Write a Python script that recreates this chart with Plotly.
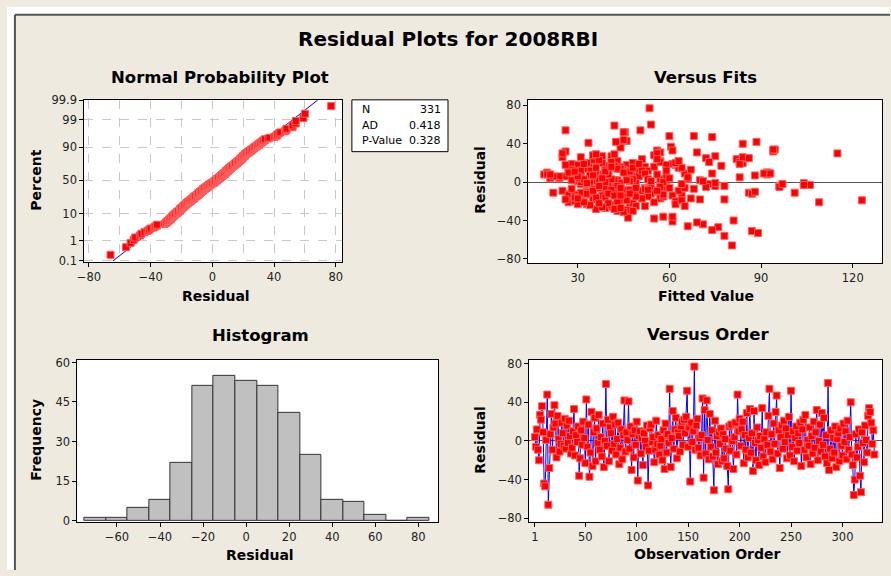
import plotly.graph_objects as go
from statistics import NormalDist, mean, stdev

# ---------------- data ----------------
residuals = [
    4, -6, 12, -9, -20, 27, 22, 36, 9, -44,
    -47, 1, 48, -66, -28, 7, 28, -9, 14, 37,
    18, -17, 26, 2, -11, -3, 19, 8, -5, 23,
    -8, 16, -2, 21, 5, -13, -7, 10, 33, -15,
    6, -1, 15, -36, -18, 11, -4, 20, 3, -23,
    43, -6, 17, -37, -12, 30, -26, 9, 24, -21,
    13, -2, 27, -9, 4, -16, 18, -27, 0, 59,
    -5, 22, -21, 14, 8, -10, 25, -3, 17, -14,
    2, 19, -24, -7, 12, -19, 6, 42, -11, 9,
    1, 41, -8, 15, -30, 7, -17, 11, -4, 20,
    -41, 5, 10, -13, 3, -25, 8, 0, -6, 16,
    -46, -10, 13, 17, -1, 4, -22, -9, 21, -3,
    6, -14, -5, 2, -20, 11, -29, 18, -12, 7,
    -2, 54, -27, 3, 31, -8, 12, 24, -18, 9,
    5, -11, 15, 20, -4, 22, 8, 25, 52, -6,
    14, -42, 19, -1, 10, 77, -9, 16, 23, -7,
    3, -15, 6, 44, -38, 32, -13, 42, 1, -19,
    28, -6, 11, -16, -51, 21, -12, 5, -24, 9,
    -3, 13, -21, 7, -18, 2, -8, -26, -50, 15,
    -10, 17, 0, -29, 4, 19, -14, 48, 10, 23,
    -5, 12, 20, -23, 6, -9, 29, -17, 3, 33,
    -12, 8, -31, 31, -2, -20, 14, 1, -25, 5,
    -7, 34, -16, 2, -22, 9, -4, 26, 54, -11,
    7, -19, 18, -3, 30, 47, -13, 11, -28, 4,
    16, -8, 21, -1, 13, -18, 6, 25, -15, 52,
    -6, 10, -21, 3, 15, -10, 8, -2, 19, -26,
    12, 22, -9, 27, -17, 1, -5, 14, -24, 5,
    -13, 20, -7, 9, 32, -20, 0, 17, -11, 29,
    -4, 24, -16, 6, -23, 60, -30, -8, 11, -18,
    3, -12, 15, -27, 2, 8, -21, 13, -5, -15,
    18, -1, 10, -19, 21, -9, 4, 40, -14, -25,
    -56, -40, 7, -17, -6, 12, -36, -53, 9, -2,
    -22, 16, 1, -12, 26, 34, 30, 19, -3, 11,
    -14,
]

fitted = [
    38, 52, 29, 44, 31, 41, 57, 44, 65, 71,
    76, 35, 60, 80.5, 36, 48, 55, 33, 40, 60.5,
    46, 29, 25, 70, 22, 57, 35, 19, 42, 38,
    49, 52, 31, 63, 83, 27, 39, 20, 61, 45,
    37, 104, 30, 58, 28, 47, 96, 84, 66, 33,
    46, 54, 43, 46.5, 32, 115, 40, 28, 82, 37,
    45, 73, 38, 51, 24, 30, 62, 44, 34, 42,
    59, 36, 27, 49, 92, 56, 85, 40, 32, 64,
    43, 28, 47, 35, 53, 123, 26, 42.5, 86, 39,
    30, 33.5, 58, 41, 43, 36, 67, 50, 75, 48,
    61, 29, 92, 34, 46, 52, 37, 31, 60, 55,
    66, 41, 27, 39, 44, 21, 48, 63, 57, 33,
    50, 38, 72, 42, 29, 36, 45, 30, 54, 88,
    40, 26, 39, 57, 69, 45, 34, 51, 35, 93,
    47, 31, 63, 38, 78, 43, 56, 72, 45.5, 37,
    32, 69, 61, 49, 40, 53.5, 25, 44, 35, 68,
    41, 53, 30, 45, 55, 94, 27, 88.5, 54, 44,
    35, 65, 46, 39, 87, 83, 33, 59, 41, 74,
    104.5, 28, 109, 31, 26, 37, 47, 43, 74, 64,
    35, 42, 58, 46, 30, 83, 61, 68, 92, 37,
    39, 51, 62, 30, 24, 42, 36, 57, 48, 56,
    87, 40, 45, 57, 33, 62, 44, 71, 49, 38,
    52, 94.5, 36, 28, 40, 91, 43, 84, 50.5, 101,
    34, 46, 59, 106, 56, 74, 29, 47, 42, 60,
    36, 53, 41, 75, 39, 70, 22, 86, 58, 45,
    44, 27, 55, 32, 48, 88, 20, 64, 50, 38,
    31, 63, 35, 75, 51, 47, 96, 43, 34, 66,
    58, 33, 28, 52, 26, 43, 39, 77, 48, 42,
    37, 56, 29, 30, 62, 54, 48, 41, 39, 78,
    53, 40, 36, 44, 46, 21, 32, 67, 57, 49,
    26, 33, 45, 64, 73, 56, 38, 84, 42, 65,
    78, 81, 35, 30, 49, 59, 61, 89, 93, 97,
    37, 41, 54, 47, 31, 94, 25, 32, 104, 29,
    44,
]

hist_centers = [-70, -60, -50, -40, -30, -20, -10, 0, 10, 20, 30, 40, 50, 60, 70, 80]
hist_counts = [1, 1, 5, 8, 22, 51, 55, 53, 51, 41, 25, 8, 7, 2, 0, 1]

npp_tick_pct = [0.1, 1, 10, 50, 90, 99, 99.9]
npp_tick_text = ["0.1", "1", "10", "50", "90", "99", "99.9"]

stat_labels = ["N", "AD", "P-Value"]
stat_values = ["331", "0.418", "0.328"]

main_title = "Residual Plots for 2008RBI"

# ---------------- derived ----------------
W, H = 891, 576
nd = NormalDist()
n = len(residuals)
order = list(range(1, n + 1))
sorted_res = sorted(residuals)
npp_z = [nd.inv_cdf((i - 0.3) / (n + 0.4)) for i in range(1, n + 1)]
tick_z = [nd.inv_cdf(p / 100.0) for p in npp_tick_pct]
zmin, zmax = nd.inv_cdf(0.001), nd.inv_cdf(0.999)
mu, sd = mean(residuals), stdev(residuals)
line_x = [mu + sd * zmin, mu + sd * zmax]


def px(x):
    return x / W


def py(y):
    return 1 - y / H


RED = "#ff0000"
BEIGE = "#EEEAE0"
FONT = "DejaVu Sans"
marker = dict(symbol="square", size=7, color=RED, line=dict(color="#ff6060", width=1))

fig = go.Figure()

fig.add_trace(go.Scatter(x=line_x, y=[zmin, zmax], mode="lines",
                         line=dict(color="#0000ff", width=1), xaxis="x", yaxis="y"))
fig.add_trace(go.Scatter(x=sorted_res, y=npp_z, mode="markers", marker=marker,
                         xaxis="x", yaxis="y"))
fig.add_trace(go.Scatter(x=fitted, y=residuals, mode="markers", marker=marker,
                         xaxis="x2", yaxis="y2"))
fig.add_trace(go.Bar(x=hist_centers, y=hist_counts, width=10,
                     marker=dict(color="#c0c0c0", line=dict(color="#333333", width=1)),
                     xaxis="x3", yaxis="y3"))
fig.add_trace(go.Scatter(x=order, y=residuals, mode="lines+markers",
                         line=dict(color="#0000ff", width=1), marker=marker,
                         xaxis="x4", yaxis="y4"))

axis_base = dict(showline=True, linecolor="black", linewidth=1, mirror=True,
                 ticks="outside", ticklen=4, tickcolor="black",
                 tickfont=dict(family=FONT, size=11.5, color="#222222"),
                 zeroline=False, showgrid=False, fixedrange=True)

dom = {
    "npp": ([px(78), px(338)], [py(261), py(95)]),
    "fits": ([px(526), px(883)], [py(262), py(95)]),
    "hist": ([px(71), px(435)], [py(527), py(361)]),
    "order": ([px(527), px(883)], [py(527), py(361)]),
}

grid = dict(showgrid=True, gridcolor="#c8c8c8", griddash="dash", gridwidth=1)

fig.update_layout(
    xaxis=dict(axis_base, domain=dom["npp"][0], anchor="y", range=[-83, 84],
               tickvals=[-80, -40, 0, 40, 80], **grid,
               minor=dict(tickvals=[-60, -20, 20, 60], showgrid=True,
                          gridcolor="#c8c8c8", griddash="dash", ticks="")),
    yaxis=dict(axis_base, domain=dom["npp"][1], anchor="x", range=[zmin - 0.05, zmax + 0.01],
               tickvals=tick_z, ticktext=npp_tick_text, **grid),
    xaxis2=dict(axis_base, domain=dom["fits"][0], anchor="y2", range=[13.8, 129.6],
                tickvals=[30, 60, 90, 120]),
    yaxis2=dict(axis_base, domain=dom["fits"][1], anchor="x2", range=[-84.4, 85.8],
                tickvals=[-80, -40, 0, 40, 80], zeroline=True, zerolinecolor="#555555",
                zerolinewidth=1),
    xaxis3=dict(axis_base, domain=dom["hist"][0], anchor="y3", range=[-78.4, 89.2],
                tickvals=[-60, -40, -20, 0, 20, 40, 60, 80]),
    yaxis3=dict(axis_base, domain=dom["hist"][1], anchor="x3", range=[-0.6, 61],
                tickvals=[0, 15, 30, 45, 60]),
    xaxis4=dict(axis_base, domain=dom["order"][0], anchor="y4", range=[-4.5, 338.5],
                tickvals=[1, 50, 100, 150, 200, 250, 300]),
    yaxis4=dict(axis_base, domain=dom["order"][1], anchor="x4", range=[-84, 84],
                tickvals=[-80, -40, 0, 40, 80], zeroline=True, zerolinecolor="#555555",
                zerolinewidth=1),
    width=W, height=H, margin=dict(l=0, r=0, t=0, b=0),
    paper_bgcolor=BEIGE, plot_bgcolor="white", showlegend=False, bargap=0,
)

shapes = [
    dict(type="rect", xref="paper", yref="paper", x0=0, x1=1, y0=py(8), y1=1,
         fillcolor="white", line=dict(width=0), layer="below"),
    dict(type="rect", xref="paper", yref="paper", x0=0, x1=px(8), y0=0, y1=1,
         fillcolor="white", line=dict(width=0), layer="below"),
    dict(type="line", xref="paper", yref="paper", x0=px(8), x1=1, y0=py(8), y1=py(8),
         line=dict(color="#555555", width=2)),
    dict(type="line", xref="paper", yref="paper", x0=px(8), x1=px(8), y0=0, y1=py(8),
         line=dict(color="#555555", width=2)),
    dict(type="rect", xref="paper", yref="paper", x0=px(348), x1=px(445),
         y0=py(148), y1=py(95), fillcolor="white", line=dict(color="black", width=1)),
]
fig.update_layout(shapes=shapes)

ann = []


def text(t, x, y, size, bold=False, angle=0, xanchor="center"):
    ann.append(dict(text=f"<b>{t}</b>" if bold else t, x=px(x), y=py(y),
                    xref="paper", yref="paper", showarrow=False, textangle=angle,
                    xanchor=xanchor, yanchor="middle",
                    font=dict(family=FONT, size=size, color="black")))


text(main_title, 445, 33, 20, bold=True)
text("Normal Probability Plot", 215, 72, 16.5, bold=True)
text("Versus Fits", 705, 72, 16.5, bold=True)
text("Histogram", 256, 336, 16.5, bold=True)
text("Versus Order", 707, 335, 16.5, bold=True)

text("Residual", 211, 296, 14, bold=True)
text("Fitted Value", 705, 296, 14, bold=True)
text("Residual", 255, 561, 14, bold=True)
text("Observation Order", 707, 560, 14, bold=True)
text("Percent", 29, 177, 14, bold=True, angle=-90)
text("Residual", 477, 177, 14, bold=True, angle=-90)
text("Frequency", 29, 443, 14, bold=True, angle=-90)
text("Residual", 477, 443, 14, bold=True, angle=-90)

for i, (lab, val) in enumerate(zip(stat_labels, stat_values)):
    yy = 105 + i * 16
    ann.append(dict(text=lab, x=px(356), y=py(yy), xref="paper", yref="paper",
                    showarrow=False, xanchor="left", yanchor="middle",
                    font=dict(family=FONT, size=11, color="black")))
    ann.append(dict(text=val, x=px(440), y=py(yy), xref="paper", yref="paper",
                    showarrow=False, xanchor="right", yanchor="middle",
                    font=dict(family=FONT, size=11, color="black")))

fig.update_layout(annotations=ann)
fig.write_html("out.html", config={"displayModeBar": False},
               post_script="document.body.style.margin='0';document.body.style.overflow='hidden';")
